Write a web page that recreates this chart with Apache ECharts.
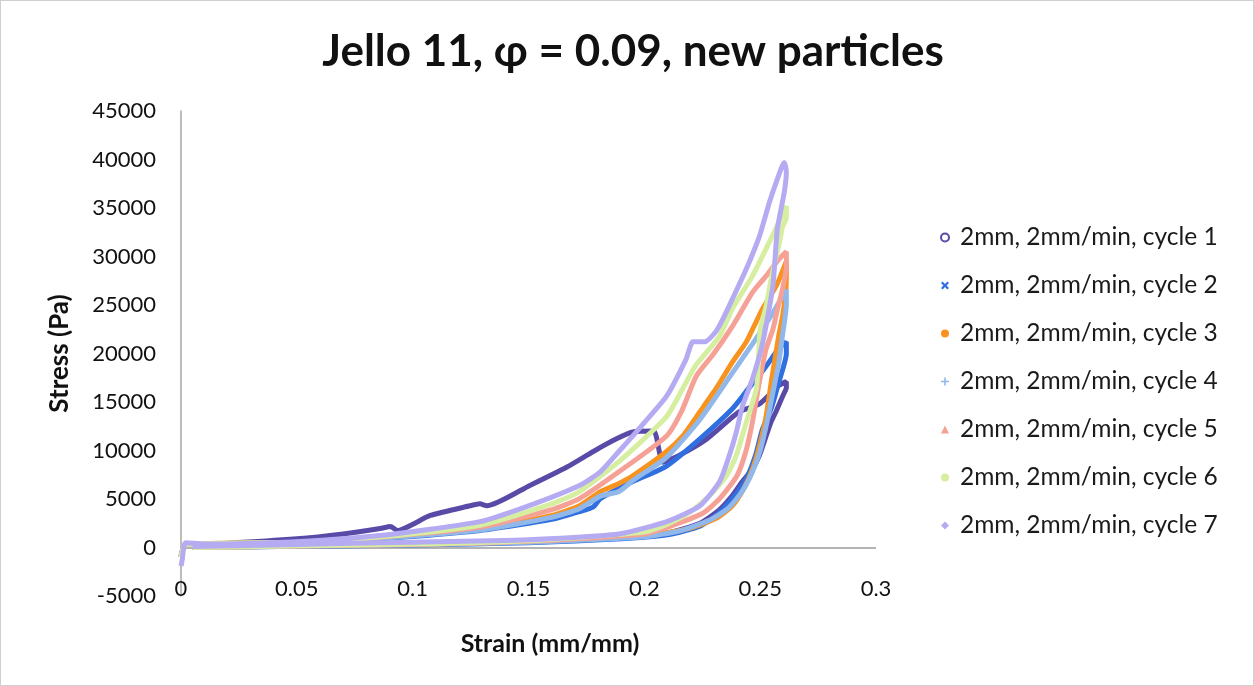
<!DOCTYPE html>
<html>
<head>
<meta charset="utf-8">
<script src="https://cdn.jsdelivr.net/npm/echarts@6/dist/echarts.min.js"></script>
<style>
html,body{margin:0;padding:0;background:#fff;}
#chart{width:1254px;height:686px;box-sizing:border-box;border:1px solid #cfcfcf;}
</style>
</head>
<body>
<div id="chart"></div>
<script>
// ---- data (strain, stress) ----
const seriesNames = ['2mm, 2mm/min, cycle 1','2mm, 2mm/min, cycle 2','2mm, 2mm/min, cycle 3','2mm, 2mm/min, cycle 4','2mm, 2mm/min, cycle 5','2mm, 2mm/min, cycle 6','2mm, 2mm/min, cycle 7'];
const xTicks = [0, 0.05, 0.1, 0.15, 0.2, 0.25, 0.3];
const yTicks = [-5000, 0, 5000, 10000, 15000, 20000, 25000, 30000, 35000, 40000, 45000];

const cycle1 = [[0,-800],[0.002,300],[0.02,450],[0.05,900],[0.07,1400],[0.086,1950],[0.0904,2160],[0.0934,1750],[0.1076,3300],[0.1248,4300],[0.129,4500],[0.132,4300],[0.1506,6400],[0.1666,8300],[0.178,9900],[0.188,11200],[0.195,11900],[0.204,12000],[0.208,8800],[0.215,9500],[0.227,11200],[0.241,14000],[0.2497,14800],[0.258,16700],[0.2613,17100],
  [0.2613,16500],[0.2597,15600],[0.257,14100],[0.2548,13000],[0.2526,11500],[0.2497,9500],[0.2467,8100],[0.2423,6800],[0.238,5350],[0.232,3800],[0.224,2500],[0.21,1500],[0.19,1000],[0.15,600],[0.1,300],[0.05,150],[0.005,50]];
const cycle2 = [[0,-1000],[0.002,300],[0.05,450],[0.086,900],[0.129,1750],[0.16,2900],[0.172,3700],[0.178,4200],[0.181,5040],[0.195,6800],[0.2096,8400],[0.224,11200],[0.238,14300],[0.245,16400],[0.252,18500],[0.258,20500],[0.2613,21200],
  [0.2613,20000],[0.258,17000],[0.255,14500],[0.251,12200],[0.248,9500],[0.244,7100],[0.238,5040],[0.231,3300],[0.224,2200],[0.21,1300],[0.19,900],[0.15,500],[0.1,250],[0.05,120],[0.005,0]];
const cycle3 = [[0,-1000],[0.002,300],[0.05,500],[0.086,1000],[0.129,1900],[0.16,3300],[0.172,4300],[0.181,5760],[0.189,6600],[0.195,7400],[0.2096,9900],[0.2166,11500],[0.224,14000],[0.231,16400],[0.238,19100],[0.244,21200],[0.251,24600],[0.257,27000],[0.2613,29500],
  [0.2613,28000],[0.261,26300],[0.2597,23900],[0.258,21800],[0.255,17400],[0.2526,13600],[0.2497,10500],[0.2467,8100],[0.243,6100],[0.238,4300],[0.231,3000],[0.22,2000],[0.2,1200],[0.15,600],[0.1,300],[0.05,150],[0.005,0]];
const cycle4 = [[0,-1000],[0.002,300],[0.05,450],[0.086,950],[0.129,1800],[0.16,3100],[0.172,4000],[0.181,5300],[0.189,5760],[0.195,6900],[0.2096,9300],[0.224,13200],[0.238,18000],[0.2467,21000],[0.255,24000],[0.2613,26600],
  [0.2613,25000],[0.2597,22000],[0.258,19000],[0.2555,16000],[0.253,13000],[0.25,10000],[0.2467,7800],[0.242,5700],[0.236,4000],[0.228,2800],[0.215,1700],[0.2,1100],[0.15,550],[0.1,280],[0.05,130],[0.005,0]];
const cycle5 = [[0,-1000],[0.002,300],[0.05,500],[0.086,1050],[0.129,2100],[0.16,3900],[0.172,5040],[0.189,7800],[0.2096,11500],[0.216,14000],[0.2225,17700],[0.23,20000],[0.238,22800],[0.2467,26300],[0.2526,28000],[0.258,29700],[0.2613,30500],
  [0.2613,29000],[0.2597,26700],[0.2575,24600],[0.2555,22500],[0.2526,20500],[0.2497,17100],[0.2467,13000],[0.2438,9900],[0.24,7400],[0.2325,5040],[0.225,3500],[0.21,2100],[0.2,1400],[0.15,650],[0.1,320],[0.05,150],[0.005,0]];
const cycle6 = [[0,-1000],[0.002,300],[0.05,550],[0.086,1100],[0.129,2300],[0.16,4500],[0.172,5760],[0.189,8850],[0.2096,13500],[0.2166,16400],[0.222,18700],[0.2325,21800],[0.238,24600],[0.2467,28000],[0.254,31500],[0.258,33500],[0.2613,35200],
  [0.2613,34000],[0.2597,33100],[0.258,31100],[0.255,28000],[0.2526,24900],[0.25,22500],[0.2484,16400],[0.2441,13000],[0.2397,9500],[0.2355,7400],[0.2282,5350],[0.22,3700],[0.21,2400],[0.2,1600],[0.15,700],[0.1,350],[0.05,170],[0.005,0]];
const cycle7 = [[0,-1900],[0.0005,-1300],[0.002,500],[0.01,350],[0.05,600],[0.086,1230],[0.129,2670],[0.15,4300],[0.172,6400],[0.181,7800],[0.189,9900],[0.199,12600],[0.2096,15600],[0.218,19400],[0.221,21200],[0.226,21200],[0.231,22300],[0.234,23600],[0.238,25600],[0.244,28700],[0.2497,32100],[0.254,35600],[0.257,37700],[0.2604,39700],
  [0.2613,38700],[0.2604,36600],[0.2574,32800],[0.2555,27000],[0.251,21000],[0.2467,17400],[0.2424,14600],[0.2397,11900],[0.2367,9500],[0.2325,6800],[0.224,4300],[0.21,2700],[0.189,1400],[0.15,800],[0.086,500],[0.05,300],[0.005,100]];

const cycles = [cycle1, cycle2, cycle3, cycle4, cycle5, cycle6, cycle7];
const colors = ['#5a4aa8','#2f6fe0','#f7931e','#90b8ea','#f6a196','#d6eea0','#b4abf2'];
const icons = ['circle',
  'path://M0,2L2,0L5,3L8,0L10,2L7,5L10,8L8,10L5,7L2,10L0,8L3,5Z',
  'circle',
  'path://M4,0H6V4H10V6H6V10H4V6H0V4H4Z',
  'triangle','circle','diamond'];

const FONT = 'Lato';
const chart = echarts.init(document.getElementById('chart'));

const series = cycles.map((d, i) => ({
  name: seriesNames[i],
  type: 'line',
  data: d,
  showSymbol: false,
  symbol: 'circle',
  smooth: 0.2,
  lineStyle: { color: colors[i], width: 5 },
  itemStyle: { color: colors[i], borderColor: colors[i] },
  z: 2 + i,
  animation: false
}));
series[0].markLine = {
  silent: true, symbol: 'none', label: { show: false },
  lineStyle: { color: '#9a9a9a', width: 1.5, type: 'solid' },
  data: [{ yAxis: 0 }],
  z: 1
};

chart.setOption({
  animation: false,
  backgroundColor: '#fff',
  title: {
    text: 'Jello 11, φ = 0.09, new particles',
    left: 627, top: 24, textAlign: 'center',
    textStyle: { fontFamily: FONT, fontSize: 44, fontWeight: 'bold', color: '#111' }
  },
  graphic: [{
    type: 'text', x: 549, y: 643,
    style: { text: 'Strain (mm/mm)', textAlign: 'center', textVerticalAlign: 'middle', font: 'bold 25px ' + FONT, fill: '#111' }
  }],
  legend: {
    orient: 'vertical', left: 934, top: 219,
    itemWidth: 8, itemHeight: 8, itemGap: 23,
    textStyle: { fontFamily: FONT, fontSize: 24.5, color: '#1a1a1a', lineHeight: 25, padding: [0, 0, 0, 6] },
    data: seriesNames.map((n, i) => ({ name: n, icon: icons[i], itemStyle: { color: i === 0 ? '#ffffff' : colors[i], borderColor: colors[i], borderWidth: i === 0 ? 2 : 0 } }))
  },
  grid: { left: 180, right: 377, top: 110, bottom: 89 },
  xAxis: {
    type: 'value', min: 0, max: 0.3, interval: 0.05,
    axisLine: { show: false, onZero: false },
    axisTick: { show: false },
    splitLine: { show: false },
    axisLabel: { margin: -18, fontFamily: FONT, fontSize: 22, color: '#111',
      formatter: v => { const t = xTicks.find(x => Math.abs(x - v) < 1e-9); return t === undefined ? '' : String(t); } }
  },
  yAxis: {
    type: 'value', min: -5000, max: 45000, interval: 5000,
    name: 'Stress (Pa)', nameLocation: 'middle', nameGap: 108, nameRotate: 90,
    nameTextStyle: { fontFamily: FONT, fontSize: 26, fontWeight: 'bold', color: '#111' },
    axisLine: { show: true, onZero: false, lineStyle: { color: '#a6a6a6', width: 1.5 } },
    axisTick: { show: false },
    splitLine: { show: false },
    axisLabel: { margin: 25, fontFamily: FONT, fontSize: 22, color: '#111',
      formatter: v => { const t = yTicks.find(y => y === v); return t === undefined ? '' : String(t); } }
  },
  series: series
});
</script>
</body>
</html>
